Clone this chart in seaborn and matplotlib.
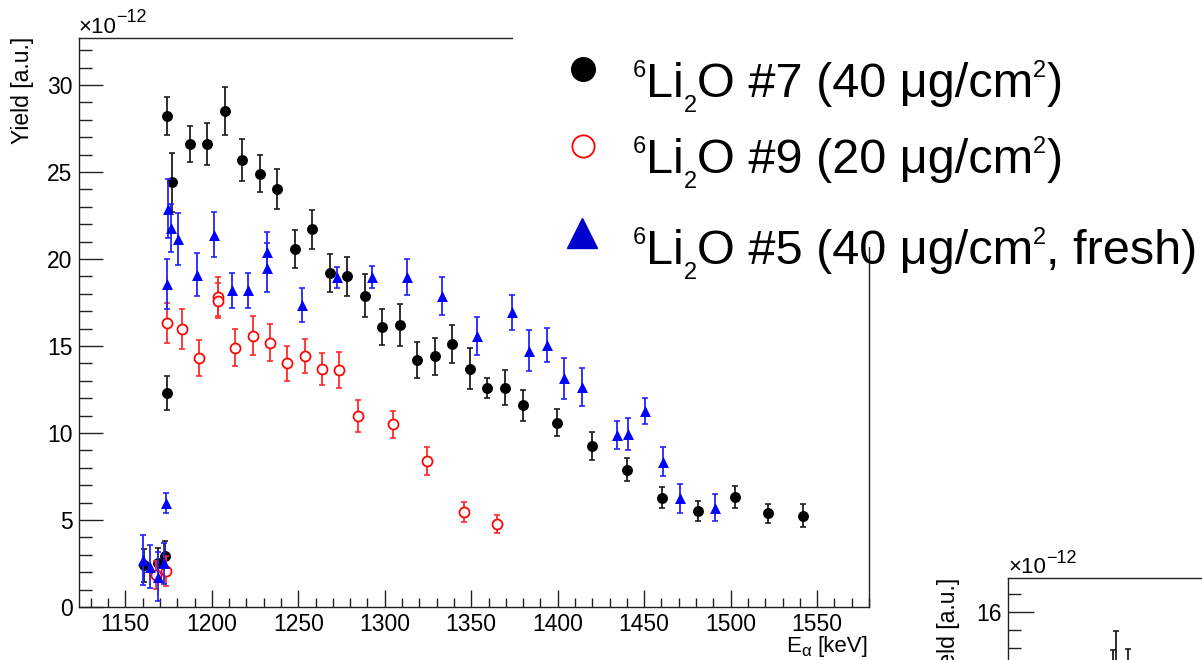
import matplotlib
matplotlib.use("Agg")
import matplotlib.pyplot as plt
import numpy as np
import pandas as pd
import seaborn as sns
from matplotlib.lines import Line2D
from matplotlib.patches import Rectangle
from matplotlib.transforms import IdentityTransform
from matplotlib.ticker import MultipleLocator, NullFormatter

# ---- data: alpha energy [keV], yield [1e-12 a.u.], yield uncertainty ----
e_li7 = [1160.6, 1168.7, 1173.0, 1173.9, 1174.1, 1176.8, 1187.2, 1197.2, 1207.4, 1217.6,
         1227.9, 1237.5, 1248.1, 1257.7, 1268.3, 1278.0, 1288.5, 1298.6, 1308.6, 1318.8,
         1329.0, 1339.0, 1349.2, 1359.2, 1369.5, 1379.7, 1399.7, 1419.8, 1440.1, 1460.4,
         1480.9, 1502.3, 1521.5, 1541.6]
y_li7 = [2.41, 2.51, 2.93, 12.3, 28.2, 24.4, 26.6, 26.6, 28.5, 25.7,
         24.9, 24.0, 20.6, 21.7, 19.2, 19.0, 17.9, 16.1, 16.2, 14.2,
         14.4, 15.1, 13.7, 12.6, 12.6, 11.6, 10.6, 9.25, 7.9, 6.28,
         5.5, 6.34, 5.38, 5.25]
err_li7 = [0.95, 0.9, 0.85, 0.98, 1.09, 1.67, 1.05, 1.2, 1.38, 1.19,
           1.07, 1.15, 1.09, 1.1, 1.07, 1.11, 1.22, 1.03, 1.19, 1.03,
           1.07, 1.09, 1.19, 0.57, 1.01, 0.9, 0.8, 0.79, 0.67, 0.6,
           0.57, 0.63, 0.54, 0.67]

e_li9 = [1167.5, 1173.3, 1173.9, 1183.0, 1192.8, 1203.4, 1203.4, 1213.4, 1224.0, 1233.6,
         1243.6, 1253.9, 1263.7, 1273.7, 1284.3, 1304.6, 1324.6, 1346.0, 1365.0]
y_li9 = [1.85, 2.07, 16.3, 16.0, 14.3, 17.83, 17.6, 14.9, 15.6, 15.2,
         14.0, 14.43, 13.7, 13.6, 11.0, 10.5, 8.4, 5.46, 4.77]
err_li9 = [0.8, 0.85, 1.15, 1.15, 1.03, 1.11, 1.0, 1.07, 1.11, 1.09,
           1.0, 0.98, 0.92, 1.03, 0.92, 0.77, 0.8, 0.59, 0.52]

e_li5 = [1160.4, 1164.3, 1168.7, 1172.5, 1173.6, 1173.9, 1174.9, 1176.4, 1180.6, 1191.3,
         1201.3, 1211.5, 1221.1, 1231.7, 1231.7, 1252.0, 1272.5, 1292.4, 1312.6, 1332.9,
         1353.1, 1373.7, 1383.5, 1393.6, 1403.6, 1413.8, 1434.1, 1440.4, 1450.4, 1460.6,
         1470.6, 1490.8]
y_li5 = [2.7, 2.32, 1.74, 2.51, 5.96, 18.56, 22.9, 21.8, 21.15, 19.1,
         21.4, 18.2, 18.2, 20.4, 19.5, 17.36, 18.95, 18.98, 18.98, 17.87,
         15.6, 16.94, 14.73, 15.06, 13.14, 12.63, 9.89, 9.94, 11.26, 8.35,
         6.25, 5.71]
err_li5 = [1.44, 1.25, 1.4, 1.19, 0.57, 1.42, 1.72, 1.38, 1.48, 1.25,
           1.28, 1.0, 1.0, 1.15, 1.4, 0.96, 0.61, 0.63, 1.02, 1.11,
           1.09, 1.0, 1.19, 0.96, 1.19, 1.09, 0.82, 0.94, 0.77, 0.82,
           0.82, 0.77]

# neighbouring panel (only its upper-left corner is in frame)
e_next = [1184.0, 1185.5, 1192.4]
y_next = [13.9, 14.3, 14.1]
err_next = [1.04, 1.16, 0.86]

legend_rows = [
    ("#7 (40 μg/cm", ")"),
    ("#9 (20 μg/cm", ")"),
    ("#5 (40 μg/cm", ", fresh)"),
]

# ---- style ----
sns.set_theme(style="ticks")
plt.rcParams.update({
    "font.family": ["Liberation Sans", "DejaVu Sans"],
    "mathtext.fontset": "custom",
    "mathtext.rm": "Liberation Sans",
    "axes.edgecolor": "black",
    "axes.linewidth": 1.0,
    "xtick.color": "black",
    "ytick.color": "black",
    "text.color": "black",
})

W, H = 1202, 660
fig = plt.figure(figsize=(W / 100, H / 100), dpi=100)
renderer = fig.canvas.get_renderer()


def rich(x, y, pieces, ha="left", zorder=10):
    """Draw a run of text pieces (text, size, raise_px, gap_px) on one baseline.
    x, y are pixels measured from the top-left corner."""
    placed, cur = [], 0.0
    for s, size, dy, gap in pieces:
        cur += gap
        t = fig.text(0, 0, s, fontsize=size, transform=IdentityTransform(),
                     ha="left", va="baseline", zorder=zorder)
        w = t.get_window_extent(renderer).width
        placed.append((t, cur, dy))
        cur += w
    x0 = x - cur if ha == "right" else x
    for t, off, dy in placed:
        t.set_position((x0 + off, H - y + dy))


def style_axis(a, ylen, ylen_minor, xlen, xlen_minor):
    a.tick_params(which="both", direction="in", bottom=True, left=True,
                  top=False, right=False, labelsize=16.5, width=1.0,
                  color="#222222", labelcolor="black")
    a.tick_params(axis="x", which="major", length=xlen, pad=4.0)
    a.tick_params(axis="x", which="minor", length=xlen_minor)
    a.tick_params(axis="y", which="major", length=ylen, pad=4.5)
    a.tick_params(axis="y", which="minor", length=ylen_minor)
    for sp in a.spines.values():
        sp.set_visible(True)
        sp.set_color("#222222")
        sp.set_linewidth(1.0)
    a.grid(False)
    a.set_xlabel("")
    a.set_ylabel("")


# ---- main panel ----
ax = fig.add_axes([79 / W, 53 / H, 790 / W, 569.3 / H])

series = [
    (e_li7, y_li7, err_li7, dict(color="black", edgecolor="black", linewidth=0, marker="o", s=62), "#1e1e1e", 2.0),
    (e_li9, y_li9, err_li9, dict(color="white", edgecolor="#ff0000", linewidth=1.25, marker="o", s=52), "#ff2a2a", 2.2),
    (e_li5, y_li5, err_li5, dict(color="#0000ff", edgecolor="#0000ff", linewidth=0, marker="^", s=62), "#2222ff", 2.4),
]
for xs, ys, es, mstyle, ecol, z in series:
    df = pd.DataFrame({"E": xs, "Y": ys, "err": es})
    ax.errorbar(df["E"], df["Y"], yerr=df["err"], fmt="none", ecolor=ecol,
                elinewidth=1.3, capsize=2.1, capthick=1.2, zorder=z)
    sns.scatterplot(data=df, x="E", y="Y", ax=ax, zorder=z + 0.1, legend=False, **mstyle)

ax.set_xlim(1123.2, 1580)
ax.set_ylim(0, 32.72)
ax.xaxis.set_major_locator(MultipleLocator(50))
ax.xaxis.set_minor_locator(MultipleLocator(10))
ax.yaxis.set_major_locator(MultipleLocator(5))
ax.yaxis.set_minor_locator(MultipleLocator(1))
style_axis(ax, 17.3, 9.1, 12.2, 6.5)

fig.text(23 / W, 1 - 36.7 / H, "Yield [a.u.]", rotation=90, ha="center", va="top", fontsize=16.5)
rich(868, 652, [("E", 16, 0, 0), ("α", 12, -4, 0), ("[keV]", 16, 0, 6)], ha="right")
rich(78, 33.3, [("×10", 16, 0, 0), ("\u221212", 13, 11.6, 0)])

# ---- neighbouring panel, mostly outside the frame ----
ax2 = fig.add_axes([1008.3 / W, -0.6, 790 / W, 0.7247])
df2 = pd.DataFrame({"E": e_next, "Y": y_next, "err": err_next})
ax2.errorbar(df2["E"], df2["Y"], yerr=df2["err"], fmt="none", ecolor="#1e1e1e",
             elinewidth=1.3, capsize=2.1, capthick=1.2, zorder=2)
sns.scatterplot(data=df2, x="E", y="Y", ax=ax2, color="black", edgecolor="black",
                linewidth=0, marker="o", s=62, legend=False, zorder=2.1)
ax2.set_xlim(1123.2, 1580)
ax2.set_ylim(3.65, 16.94)
ax2.yaxis.set_major_locator(MultipleLocator(2))
ax2.yaxis.set_minor_locator(MultipleLocator(0.5))
ax2.xaxis.set_major_locator(MultipleLocator(50))
ax2.xaxis.set_minor_locator(MultipleLocator(10))
ax2.xaxis.set_major_formatter(NullFormatter())
style_axis(ax2, 18.7, 9.4, 12.2, 6.5)
fig.text(948 / W, 1 - 578 / H, "Yield [a.u.]", rotation=90, ha="center", va="top", fontsize=16.5)
rich(1008.3, 573.3, [("×10", 16, 0, 0), ("\u221212", 13, 10, 0)])

# ---- legend box (opaque, covers the upper-right corner of the frame) ----
fig.add_artist(Rectangle((513 / W, 1 - 247 / H), 1, 1, transform=fig.transFigure,
                         facecolor="white", edgecolor="none", zorder=5))
marker_pos = [(582.7, 69.3), (582.7, 146.0), (582.0, 233.3)]
marker_kw = [
    dict(marker="o", ms=17, mfc="black", mec="black"),
    dict(marker="o", ms=16, mfc="none", mec="#ff0000", mew=1.3),
    dict(marker="^", ms=21, mfc="#0000cc", mec="#0000cc"),
]
baselines = [96.7, 172.7, 264.0]
for (mx, my), mk, base, (mid, tail) in zip(marker_pos, marker_kw, baselines, legend_rows):
    fig.add_artist(Line2D([mx / W], [1 - my / H], transform=fig.transFigure,
                          ls="none", zorder=11, **mk))
    rich(633, base, [("6", 17, 20, 0), ("Li", 35, 0, 0), ("2", 17, -15, 0),
                     ("O " + mid, 35, 0, 0), ("2", 17, 20, 0), (tail, 35, 0, 0)])

fig.savefig("out.png", dpi=100)
